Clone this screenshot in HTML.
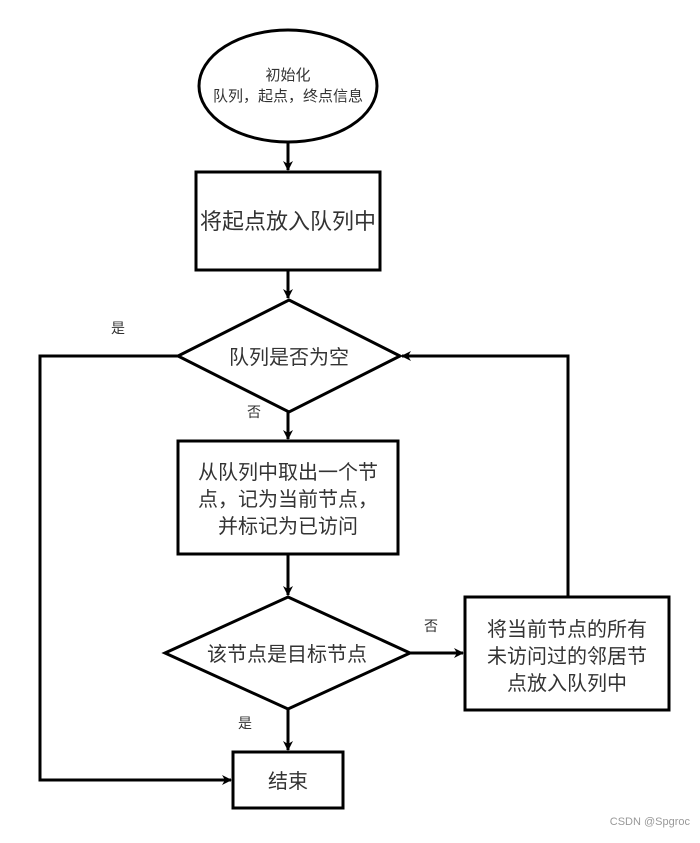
<!DOCTYPE html>
<html><head><meta charset="utf-8"><style>
html,body{margin:0;padding:0;background:#fff;}
svg text{font-family:"Liberation Sans","Noto Sans CJK SC",sans-serif;fill:#333;}
</style></head><body>
<svg width="700" height="838" viewBox="0 0 700 838" xmlns="http://www.w3.org/2000/svg">
<defs><marker id="a" markerWidth="10" markerHeight="10" refX="9" refY="5" orient="auto" markerUnits="userSpaceOnUse"><path d="M0,0 L10,5 L0,10 L3,5 z" fill="#000"/></marker></defs>
<g stroke="#000" stroke-width="3" fill="#fff">
<ellipse cx="288" cy="86" rx="89" ry="56"/>
<rect x="196" y="172" width="184" height="98"/>
<polygon points="289,300 400,356 289,412 178,356"/>
<rect x="178" y="441" width="220" height="113"/>
<polygon points="288,597 410,653 288,709 165,653"/>
<rect x="465" y="597" width="204" height="113"/>
<rect x="233" y="752" width="110" height="56"/>
</g>
<g stroke="#000" stroke-width="3" fill="none">
<line x1="288" y1="142" x2="288" y2="170" marker-end="url(#a)"/>
<line x1="288" y1="270" x2="288" y2="298" marker-end="url(#a)"/>
<line x1="288" y1="412" x2="288" y2="439" marker-end="url(#a)"/>
<line x1="288" y1="554" x2="288" y2="595" marker-end="url(#a)"/>
<line x1="288" y1="709" x2="288" y2="750" marker-end="url(#a)"/>
<line x1="410" y1="653" x2="463" y2="653" marker-end="url(#a)"/>
<polyline points="568,597 568,356 402,356" marker-end="url(#a)"/>
<polyline points="178,356 40,356 40,780 231,780" marker-end="url(#a)"/>
</g>
<text x="288" y="80" font-size="15" text-anchor="middle">初始化</text>
<text x="288" y="101" font-size="15" text-anchor="middle">队列，起点，终点信息</text>
<text x="288" y="229" font-size="22" text-anchor="middle">将起点放入队列中</text>
<text x="289" y="364" font-size="20" text-anchor="middle">队列是否为空</text>
<text x="288" y="479" font-size="20" text-anchor="middle">从队列中取出一个节</text>
<text x="288" y="506" font-size="20" text-anchor="middle">点，记为当前节点，</text>
<text x="288" y="533" font-size="20" text-anchor="middle">并标记为已访问</text>
<text x="287" y="661" font-size="20" text-anchor="middle">该节点是目标节点</text>
<text x="567" y="636" font-size="20" text-anchor="middle">将当前节点的所有</text>
<text x="567" y="663" font-size="20" text-anchor="middle">未访问过的邻居节</text>
<text x="567" y="690" font-size="20" text-anchor="middle">点放入队列中</text>
<text x="288" y="788" font-size="20" text-anchor="middle">结束</text>
<text x="118" y="333" font-size="14" text-anchor="middle">是</text>
<text x="254" y="417" font-size="14" text-anchor="middle">否</text>
<text x="431" y="631" font-size="14" text-anchor="middle">否</text>
<text x="245" y="728" font-size="14" text-anchor="middle">是</text>
<text x="690" y="825" font-size="11" text-anchor="end" style="fill:#999">CSDN @Spgroc</text>
</svg>
</body></html>
